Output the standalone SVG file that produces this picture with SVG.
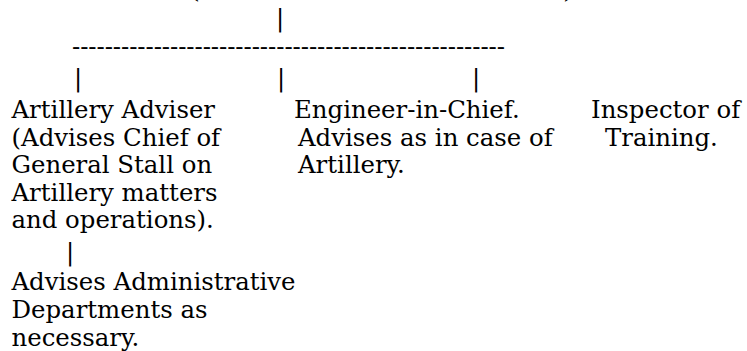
<svg xmlns="http://www.w3.org/2000/svg" width="747" height="351" viewBox="0 0 747 351">
<style>
text{font-family:"DejaVu Serif","Liberation Serif",serif;font-size:24.4px;fill:#000}
.c{text-anchor:middle}
</style>
<rect width="747" height="351" fill="#fff"/>
<g id="top-cut">
<text class="c" x="195" y="-2">(</text>
<text class="c" x="568" y="-2">)</text>
</g>
<g id="connectors">
<text class="c" x="280" y="26">|</text>
<text x="72" y="55" textLength="433" lengthAdjust="spacing">-----------------------------------------------------</text>
<text class="c" x="78" y="86">|</text>
<text class="c" x="281" y="86">|</text>
<text class="c" x="476" y="86">|</text>
<text class="c" x="70" y="260">|</text>
</g>
<g id="artillery-adviser">
<text x="11.5" y="118">Artillery Adviser</text>
<text x="11.5" y="145.5">(Advises Chief of</text>
<text x="11.5" y="173">General Stall on</text>
<text x="11.5" y="200.5">Artillery matters</text>
<text x="11.5" y="228">and operations).</text>
</g>
<g id="engineer-in-chief">
<text x="294" y="118">Engineer-in-Chief.</text>
<text x="298" y="145.5">Advises as in case of</text>
<text x="298" y="173">Artillery.</text>
</g>
<g id="inspector-of-training">
<text x="591" y="118">Inspector of</text>
<text x="605" y="145.5">Training.</text>
</g>
<g id="administrative-departments">
<text x="11.5" y="290">Advises Administrative</text>
<text x="11.5" y="317.5">Departments as</text>
<text x="11.5" y="345.5">necessary.</text>
</g>
</svg>
